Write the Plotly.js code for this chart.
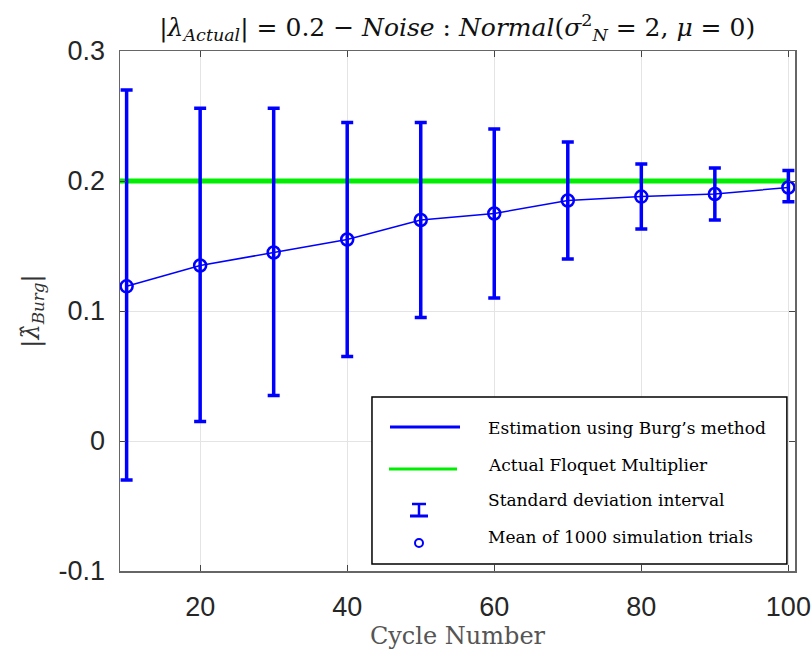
<!DOCTYPE html>
<html>
<head>
<meta charset="utf-8">
<script src="https://cdn.plot.ly/plotly-3.0.1.min.js"></script>
<style>html,body{margin:0;padding:0;background:#fff;}#chart{width:812px;height:654px;}</style>
</head>
<body>
<div id="chart"></div>
<script>
const cycles = [10, 20, 30, 40, 50, 60, 70, 80, 90, 100];
const meanValues = [0.119, 0.135, 0.145, 0.155, 0.170, 0.175, 0.185, 0.188, 0.190, 0.195];
const upperValues = [0.270, 0.256, 0.256, 0.245, 0.245, 0.240, 0.230, 0.213, 0.210, 0.208];
const lowerValues = [-0.030, 0.015, 0.035, 0.065, 0.095, 0.110, 0.140, 0.163, 0.170, 0.184];
const actualValue = 0.2;
const actualX = [9.1, 100];
const xTicks = [20, 40, 60, 80, 100];
const yTicks = [-0.1, 0, 0.1, 0.2, 0.3];
const yTickText = ['-0.1', '0', '0.1', '0.2', '0.3'];
const legendLabels = ['Estimation using Burg\u2019s method', 'Actual Floquet Multiplier', 'Standard deviation interval', 'Mean of 1000 simulation trials'];

const blue = '#0000ff';
const green = '#00ee00';

const errPlus = upperValues.map((u, i) => u - meanValues[i]);
const errMinus = lowerValues.map((l, i) => meanValues[i] - l);

const traces = [
  {
    x: actualX, y: actualX.map(() => actualValue), mode: 'lines',
    line: {color: green, width: 5}, showlegend: false, hoverinfo: 'skip'
  },
  {
    x: cycles, y: meanValues, mode: 'lines+markers',
    line: {color: blue, width: 1.5},
    marker: {symbol: 'circle-open', size: 12, color: blue, line: {color: blue, width: 2.5}},
    error_y: {type: 'data', symmetric: false, array: errPlus, arrayminus: errMinus,
      color: blue, thickness: 3.5, width: 6},
    showlegend: false
  }
];

// custom legend (paper coords)
const L = {x0: 0.3733, x1: 0.988, y0: 0.0135, y1: 0.3346};
function px2x(px) { return (px - 120) / 675; }
function py2y(py) { return (571 - py) / 520; }
const rowY = [428, 465, 500, 537];
const shapes = [
  {type: 'rect', xref: 'paper', yref: 'paper', x0: L.x0, x1: L.x1, y0: L.y0, y1: L.y1,
    line: {color: '#000', width: 1.5}, fillcolor: '#fff', layer: 'above'},
  {type: 'line', xref: 'paper', yref: 'paper', x0: px2x(390), x1: px2x(460), y0: py2y(427), y1: py2y(427),
    line: {color: blue, width: 3}, layer: 'above'},
  {type: 'line', xref: 'paper', yref: 'paper', x0: px2x(389), x1: px2x(457), y0: py2y(469), y1: py2y(469),
    line: {color: green, width: 3}, layer: 'above'},
  {type: 'line', xref: 'paper', yref: 'paper', x0: px2x(419), x1: px2x(419), y0: py2y(504), y1: py2y(516),
    line: {color: blue, width: 2.5}, layer: 'above'},
  {type: 'line', xref: 'paper', yref: 'paper', x0: px2x(412), x1: px2x(426), y0: py2y(504), y1: py2y(504),
    line: {color: blue, width: 2.5}, layer: 'above'},
  {type: 'line', xref: 'paper', yref: 'paper', x0: px2x(410), x1: px2x(428), y0: py2y(516), y1: py2y(516),
    line: {color: blue, width: 3}, layer: 'above'},
  {type: 'circle', xref: 'paper', yref: 'paper', x0: px2x(415), x1: px2x(423), y0: py2y(547), y1: py2y(539),
    line: {color: blue, width: 2}, fillcolor: 'rgba(0,0,0,0)', layer: 'above'}
];
const annotations = legendLabels.map((t, i) => ({
  xref: 'paper', yref: 'paper', x: px2x(486), y: py2y(rowY[i]), xanchor: 'left', yanchor: 'middle',
  text: t, showarrow: false, font: {family: 'DejaVu Serif', size: 17, color: '#000'}
}));

const layout = {
  width: 812, height: 654,
  margin: {l: 120, r: 17, t: 51, b: 83},
  paper_bgcolor: '#fff', plot_bgcolor: '#fff',
  title: {
    text: '|<i>λ</i><sub><i>Actual</i></sub>| = 0.2 − <i>Noise</i> : <i>Normal</i>(<i>σ</i><sup>2</sup><sub><i>N</i></sub> = 2, <i>μ</i> = 0)',
    font: {family: 'DejaVu Serif', size: 25, color: '#111'},
    x: 0.563, xanchor: 'center', y: 0.958, yanchor: 'middle'
  },
  xaxis: {
    range: [9.1, 100.9], tickvals: xTicks, ticktext: xTicks.map(String),
    ticks: 'inside', ticklen: 6, tickcolor: '#444', showline: true, linecolor: '#666', linewidth: 1.5,
    mirror: 'ticks', showgrid: true, gridcolor: '#e4e4e4', gridwidth: 1, zeroline: false,
    ticklabelstandoff: 11,
    tickfont: {family: 'Liberation Sans, Arial', size: 27, color: '#262626'},
    title: {text: 'Cycle Number', font: {family: 'DejaVu Serif', size: 24, color: '#555'}, standoff: 6}
  },
  yaxis: {
    range: [-0.1, 0.3], tickvals: yTicks, ticktext: yTickText,
    ticks: 'inside', ticklen: 6, tickcolor: '#444', showline: true, linecolor: '#666', linewidth: 1.5,
    mirror: 'ticks', showgrid: true, gridcolor: '#e4e4e4', gridwidth: 1, zeroline: false,
    ticklabelstandoff: 8,
    tickfont: {family: 'Liberation Sans, Arial', size: 27, color: '#262626'},
    title: {text: '|<i>λ̂</i><sub><i>Burg</i></sub>|', font: {family: 'DejaVu Serif', size: 24, color: '#333'}, standoff: 12}
  },
  shapes: shapes,
  annotations: annotations,
  showlegend: false
};

Plotly.newPlot('chart', traces, layout, {displayModeBar: false, staticPlot: true});
</script>
</body>
</html>
